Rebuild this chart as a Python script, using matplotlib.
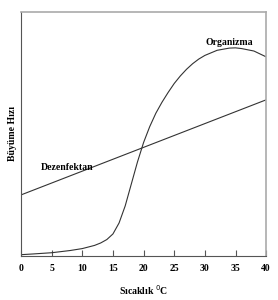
import matplotlib.pyplot as plt

# Values
temp = [0, 2, 5, 8, 10, 12, 13, 14, 15, 16, 17, 18, 19, 20, 21, 22, 23, 24, 25, 26, 27, 28, 29,
        30, 32, 34, 35, 36, 38, 40]
organizma = [0.005, 0.008, 0.013, 0.022, 0.03, 0.043, 0.053, 0.067, 0.09, 0.135, 0.205, 0.295,
             0.385, 0.465, 0.53, 0.585, 0.63, 0.67, 0.707, 0.738, 0.765, 0.788, 0.807,
             0.822, 0.843, 0.852, 0.853, 0.85, 0.84, 0.816]
dez_x = [0, 40]
dez_y = [0.25, 0.64]
xticks = [0, 5, 10, 15, 20, 25, 30, 35, 40]

serif = ['Liberation Serif', 'DejaVu Serif']

fig = plt.figure(figsize=(2.78, 3.0), dpi=100)
ax = fig.add_axes([0.0755, 0.147, 0.882, 0.813])

ax.plot(temp, organizma, color='#333333', lw=0.8)
ax.plot(dez_x, dez_y, color='#333333', lw=0.8)

ax.text(34, 0.855, 'Organizma', family=serif, fontsize=7, fontweight='bold', ha='center', va='bottom')
ax.text(7.5, 0.345, 'Dezenfektan', family=serif, fontsize=7, fontweight='bold', ha='center', va='bottom')

ax.set_xlim(0, 40)
ax.set_ylim(0, 1)
ax.set_xticks(xticks)
ax.set_xticklabels([str(t) for t in xticks], family=serif, fontsize=7, fontweight='bold')
ax.set_yticks([])
ax.tick_params(axis='x', direction='in', length=4, width=0.8, color='#555555', pad=6)

ax.set_xlabel('Sıcaklık $^0$C', family=serif, fontsize=7, fontweight='bold', labelpad=7)
ax.set_ylabel('Büyüme Hızı', family=serif, fontsize=7, fontweight='bold', labelpad=3)

for side in ['left', 'bottom']:
    ax.spines[side].set_color('#555555')
for side in ['top', 'right']:
    ax.spines[side].set_color('#aaaaaa')
    ax.spines[side].set_linewidth(1.2)

plt.savefig('out.png', dpi=100)
